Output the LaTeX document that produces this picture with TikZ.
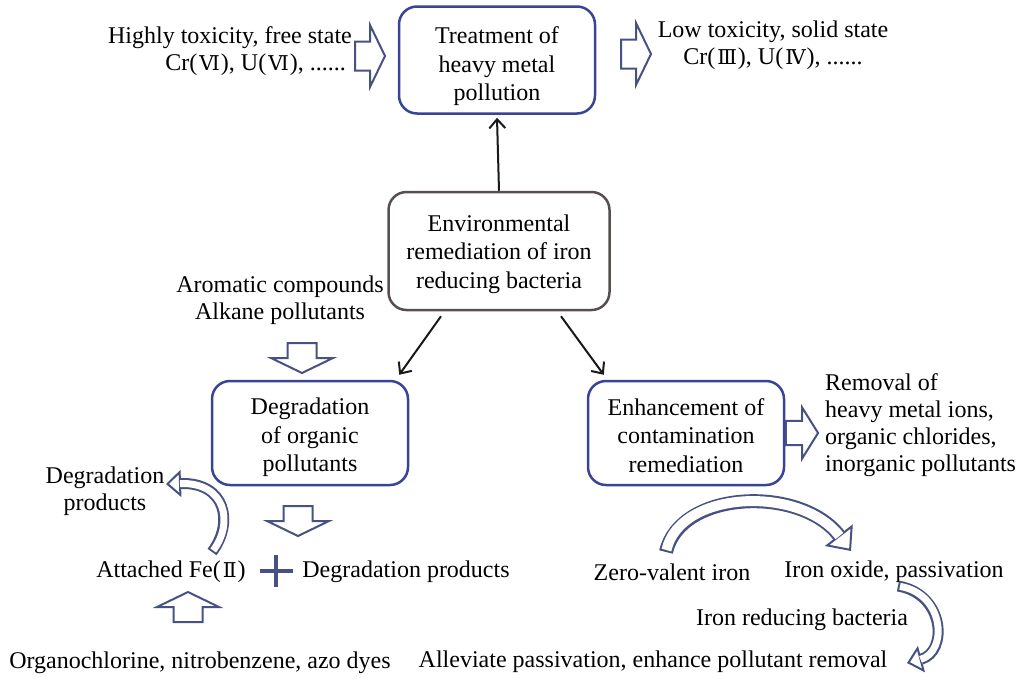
\documentclass[tikz,border=0pt]{standalone}
\usepackage{fontspec}
\setmainfont{Liberation Serif}
\newfontfamily\numfont[Scale=0.85]{DejaVu Serif}
\newcommand{\rn}[1]{{\kern2pt\numfont #1\kern1pt}}
\usepackage{tikz}
\usetikzlibrary{arrows.meta,calc,positioning}
\definecolor{boxcolor}{RGB}{58,68,150}
\definecolor{envcolor}{RGB}{88,78,78}
\definecolor{fatcolor}{RGB}{72,82,130}
\definecolor{linkcolor}{RGB}{25,25,25}
\tikzstyle{every node}=[font=\fontsize{24}{27}\selectfont, inner sep=0pt]
\tikzstyle{stage}=[draw=boxcolor, line width=2.5pt, rounded corners=18pt, align=center, minimum width=196pt, minimum height=104pt, font=\fontsize{24}{28.5}\selectfont, text height=83pt]
\tikzstyle{core stage}=[stage, draw=envcolor, minimum width=221pt, minimum height=118pt]
\tikzstyle{note}=[align=center]
\tikzstyle{link}=[-{Straight Barb[length=9pt,width=16pt]}, line width=2pt, linkcolor]
\tikzstyle{fatline}=[draw=fatcolor, fill=white, line width=2pt, line join=miter]
\tikzstyle{band}=[draw=fatcolor, line width=11pt, -{Triangle[width=27pt,length=15pt,fill=white,line width=2pt]}, postaction={draw=white, line width=7pt, arrows=-, shorten >=14pt, shorten <=2pt}]
\tikzstyle{wide band}=[draw=fatcolor, line width=14pt, -{Triangle[width=35pt,length=20pt,fill=white,line width=2pt]}, postaction={draw=white, line width=10pt, arrows=-, shorten >=19pt, shorten <=2pt}]
\tikzset{fat arrow/.pic={\draw[fatline] (-15,-14.5) -- (0,-14.5) -- (0,-31) -- (15,0) -- (0,31) -- (0,14.5) -- (-15,14.5) -- cycle;}}

\begin{document}
\begin{tikzpicture}[x=1pt,y=-1pt]
\useasboundingbox (0,0) rectangle (1019,678);

    \node[stage, minimum height=107pt, text height=87pt] (treat) at (497,60) {Treatment of\\heavy metal\\pollution};
    \node[core stage, text height=80pt] (env) at (499,251) {Environmental\\remediation of iron\\reducing bacteria};
    \node[stage] (degr) at (310,433) {Degradation\\of organic\\pollutants};
    \node[stage, text height=79pt] (enh) at (686,433) {Enhancement of\\contamination\\remediation};

    \node[note, anchor=east, align=right] (hightox) at (352,51) {Highly toxicity, free state\\Cr(\rn{Ⅵ}), U(\rn{Ⅵ}), ......\hspace*{6pt}};
    \node[note] (lowtox) at (773,45) {Low toxicity, solid state\\Cr(\rn{Ⅲ}), U(\rn{Ⅳ}), ......};
    \node[note] (arom) at (280,300) {Aromatic compounds\\Alkane pollutants};
    \node[note, anchor=west, align=left] (removal) at (825,425) {Removal of\\heavy metal ions,\\organic chlorides,\\inorganic pollutants};
    \node[note] (byprod) at (105,491) {Degradation\\products};
    \node (fe) at (171,572) {Attached Fe(\rn{Ⅱ})};
    \node (prod) at (406,572) {Degradation products};
    \node (organo) at (200,663) {Organochlorine, nitrobenzene, azo dyes};
    \node (zvi) at (672,572) {Zero-valent iron};
    \node (oxide) at (894,572) {Iron oxide, passivation};
    \node (irb) at (802,620) {Iron reducing bacteria};
    \node (relief) at (653,662) {Alleviate passivation, enhance pollutant removal};

    \draw[link] (env.north) -- ([yshift=-3pt]treat.south);
    \draw[link] ([xshift=-58pt,yshift=-5pt]env.south) -- ([xshift=-10pt,yshift=5pt]degr.north east);
    \draw[link] ([xshift=62pt,yshift=-5pt]env.south) -- ([xshift=17pt,yshift=5pt]enh.north west);

    % Draw the block arrows
    \pic at (370,56) {fat arrow};
    \pic at (636,54) {fat arrow};
    \pic[rotate=-90] at (302,358) {fat arrow};
    \pic[rotate=-90] at (298,521) {fat arrow};
    \pic[rotate=90] at (188,607) {fat arrow};
    \pic[xscale=1.07,yscale=0.83] at (802,433) {fat arrow};

    \draw[fatcolor, line width=4pt] (260,571) -- (293,571) (276,555) -- (276,587);

    \draw[band] (212,552) .. controls (234,523) and (226,482) .. (166,484);
    \draw[wide band] (666,552) .. controls (680,490) and (800,485) .. (851,551);
    \draw[band] (898,586) .. controls (945,594) and (948,652) .. (907,663);

\end{tikzpicture}
\end{document}
